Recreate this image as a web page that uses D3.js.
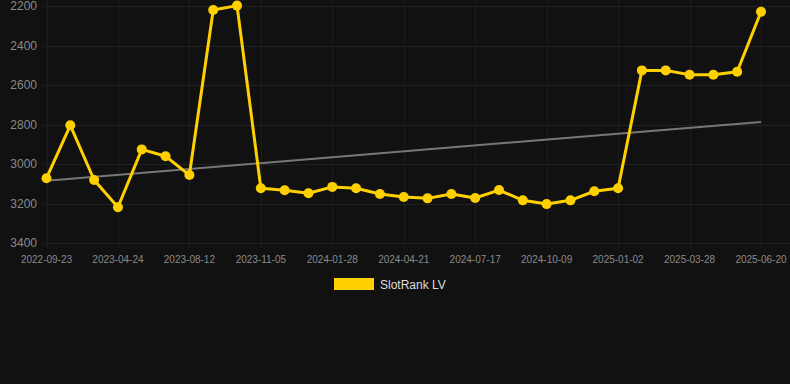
<!DOCTYPE html>
<html>
<head>
<meta charset="utf-8">
<script src="https://cdn.jsdelivr.net/npm/d3@7"></script>
<style>
  html, body { margin: 0; padding: 0; background: #111111; }
  svg { display: block; font-family: "Liberation Sans", Arial, sans-serif; }
</style>
</head>
<body>
<div id="chart"></div>
<script>
// ---- data ----
const dates = [
  "2022-09-23", "2022-11-30", "2023-02-10", "2023-04-24", "2023-06-01", "2023-07-08",
  "2023-08-12", "2023-09-10", "2023-10-08", "2023-11-05", "2023-12-03", "2023-12-31",
  "2024-01-28", "2024-02-25", "2024-03-24", "2024-04-21", "2024-05-19", "2024-06-16",
  "2024-07-17", "2024-08-14", "2024-09-11", "2024-10-09", "2024-11-06", "2024-12-04",
  "2025-01-02", "2025-01-30", "2025-02-28", "2025-03-28", "2025-04-25", "2025-05-23",
  "2025-06-20"
];
const slotRankLV = [
  3072, 2804, 3081, 3219, 2926, 2961, 3056, 2220, 2198, 3123, 3133, 3148,
  3116, 3123, 3152, 3167, 3174, 3152, 3172, 3132, 3184, 3203, 3184, 3138,
  3123, 2526, 2526, 2548, 2548, 2533, 2229
];
const trendValues = [3085, 2787]; // first and last point of trend line
const yTicks = [2200, 2400, 2600, 2800, 3000, 3200, 3400];
const seriesName = "SlotRank LV";

// ---- layout ----
const width = 790, height = 384;
const margin = { left: 46.5, right: 761, top: 6, bottom: 243 };
const lineColor = "#ffd000";

const svg = d3.select("#chart").append("svg")
  .attr("width", width)
  .attr("height", height);

svg.append("rect").attr("width", width).attr("height", height).attr("fill", "#111111");

const x = d3.scalePoint().domain(dates).range([margin.left, margin.right]);
const y = d3.scaleLinear().domain([2200, 3400]).range([margin.top, margin.bottom]);

// grid
const grid = svg.append("g").attr("class", "grid");
grid.selectAll("line.h").data(yTicks).join("line")
  .attr("class", "h")
  .attr("x1", 43).attr("x2", width)
  .attr("y1", d => Math.round(y(d)) + 0.5).attr("y2", d => Math.round(y(d)) + 0.5)
  .attr("stroke", "#212121").attr("stroke-width", 1);

const xTickDates = dates.filter((d, i) => i % 3 === 0);
grid.selectAll("line.v").data(xTickDates).join("line")
  .attr("class", "v")
  .attr("x1", d => Math.round(x(d)) + 0.5).attr("x2", d => Math.round(x(d)) + 0.5)
  .attr("y1", 0).attr("y2", margin.bottom + 5)
  .attr("stroke", "#1d1d1d").attr("stroke-width", 1);

// y axis labels
svg.append("g").selectAll("text").data(yTicks).join("text")
  .attr("x", 37)
  .attr("y", d => y(d) + 4)
  .attr("text-anchor", "end")
  .attr("fill", "#8a8a8a")
  .attr("font-size", 12)
  .text(d => d);

// x axis labels
svg.append("g").selectAll("text").data(xTickDates).join("text")
  .attr("x", d => x(d))
  .attr("y", 263)
  .attr("text-anchor", "middle")
  .attr("fill", "#8a8a8a")
  .attr("font-size", 10)
  .text(d => d);

// trend line
svg.append("line")
  .attr("x1", x(dates[0])).attr("y1", y(trendValues[0]))
  .attr("x2", x(dates[dates.length - 1])).attr("y2", y(trendValues[1]))
  .attr("stroke", "#777777").attr("stroke-width", 2);

// series line
const line = d3.line()
  .x((d, i) => x(dates[i]))
  .y(d => y(d));

svg.append("path")
  .datum(slotRankLV)
  .attr("d", line)
  .attr("fill", "none")
  .attr("stroke", lineColor)
  .attr("stroke-width", 3)
  .attr("stroke-linejoin", "round");

svg.append("g").selectAll("circle").data(slotRankLV).join("circle")
  .attr("cx", (d, i) => x(dates[i]))
  .attr("cy", d => y(d))
  .attr("r", 5)
  .attr("fill", lineColor);

// legend
const legend = svg.append("g");
legend.append("rect")
  .attr("x", 334).attr("y", 278).attr("width", 40).attr("height", 12)
  .attr("fill", lineColor);
legend.append("text")
  .attr("x", 380).attr("y", 288.5)
  .attr("fill", "#dddddd")
  .attr("font-size", 12)
  .text(seriesName);
</script>
</body>
</html>
